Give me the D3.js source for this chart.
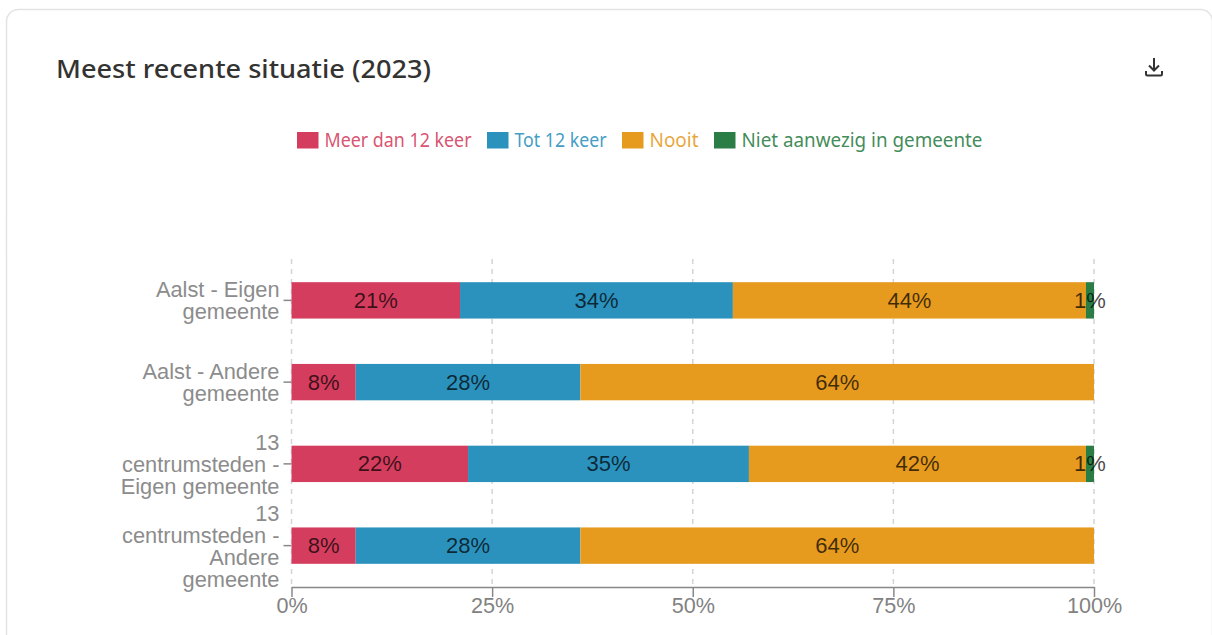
<!DOCTYPE html>
<html lang="nl">
<head>
<meta charset="utf-8">
<title>Meest recente situatie (2023)</title>
<script src="https://cdn.jsdelivr.net/npm/d3@7/dist/d3.min.js"></script>
<style>
  html, body { margin: 0; padding: 0; background: #fff; overflow: hidden; }
  svg { display: block; }
  .heading { font-family: "Noto Sans", sans-serif; font-weight: 500; }
  .legend-label { font-family: "Noto Sans", sans-serif; }
  .axis text, .value { font-family: "Liberation Sans", Arial, sans-serif; }
</style>
</head>
<body>
<svg id="chart" width="1212" height="635"></svg>
<script>
// Share of respondents per group, in percent
const categories = ["Aalst - Eigen gemeente", "Aalst - Andere gemeente", "13 centrumsteden - Eigen gemeente", "13 centrumsteden - Andere gemeente"];
const wrappedCategories = [
  ["Aalst - Eigen", "gemeente"],
  ["Aalst - Andere", "gemeente"],
  ["13", "centrumsteden -", "Eigen gemeente"],
  ["13", "centrumsteden -", "Andere", "gemeente"]
];
const seriesNames = ["Meer dan 12 keer", "Tot 12 keer", "Nooit", "Niet aanwezig in gemeente"];
const seriesColors = ["#d43d5e", "#2b91bd", "#e69a1e", "#2a7d45"];
const meerDan12 = [21, 8, 22, 8];
const tot12 = [34, 28, 35, 28];
const nooit = [44, 64, 42, 64];
const nietAanwezig = [1, 0, 1, 0];
const xTicks = [0, 25, 50, 75, 100];

const svg = d3.select("#chart");

// Card outline behind the chart
svg.append("rect")
  .attr("x", 6.5).attr("y", 9.5)
  .attr("width", 1206).attr("height", 660)
  .attr("rx", 12)
  .attr("fill", "#fff")
  .attr("stroke", "#e3e3e3")
  .attr("stroke-width", 1.5);

svg.append("text")
  .attr("class", "heading")
  .attr("x", 56).attr("y", 77.5)
  .attr("font-size", 26)
  .attr("fill", "#333332")
  .attr("textLength", 375)
  .attr("lengthAdjust", "spacingAndGlyphs")
  .text("Meest recente situatie (2023)");

// Download icon
const icon = svg.append("g")
  .attr("transform", "translate(1145,58)")
  .attr("fill", "none")
  .attr("stroke", "#333332")
  .attr("stroke-width", 2);
icon.append("path").attr("d", "M9 0V12M4 7.5L9 12.5L14 7.5");
icon.append("path").attr("d", "M1 13V16.2Q1 17.5 2.3 17.5H15.7Q17 17.5 17 16.2V13");

const x = d3.scaleLinear().domain([0, 100]).range([291.5, 1094]);
const y = d3.scaleBand().domain(categories).range([259.5, 586.5]).paddingInner(0.555).paddingOuter(0.2775);

// Dashed vertical grid lines
svg.append("g")
  .selectAll("line")
  .data(xTicks)
  .join("line")
  .attr("x1", d => x(d)).attr("x2", d => x(d))
  .attr("y1", 259).attr("y2", 587)
  .attr("stroke", "#d4d4d4")
  .attr("stroke-width", 1.5)
  .attr("stroke-dasharray", "5 5");

const seriesValues = [meerDan12, tot12, nooit, nietAanwezig];
const stack = d3.stack().keys(d3.range(seriesNames.length)).value((row, k) => seriesValues[k][row]);
const layers = stack(d3.range(categories.length));

const groups = svg.selectAll("g.layer")
  .data(layers)
  .join("g")
  .attr("class", "layer")
  .attr("fill", d => seriesColors[d.key]);

groups.selectAll("rect")
  .data(d => d.filter(s => s[1] > s[0]))
  .join("rect")
  .attr("x", d => x(d[0]))
  .attr("y", d => y(categories[d.data]))
  .attr("width", d => x(d[1]) - x(d[0]))
  .attr("height", y.bandwidth());

// Axes
const xAxis = d3.axisBottom(x).tickValues(xTicks).tickFormat(d => d + "%").tickSize(10).tickSizeOuter(0);
const gx = svg.append("g").attr("class", "axis").attr("transform", "translate(0,587)").call(xAxis);
gx.select(".domain").attr("stroke", "#888").attr("stroke-width", 1.5);
gx.selectAll(".tick line").attr("stroke", "#888").attr("stroke-width", 1.5);
gx.selectAll(".tick text").attr("fill", "#828282").attr("font-size", 21.6).attr("y", 11).attr("dy", "0.71em");

const yAxis = d3.axisLeft(y).tickSize(8).tickSizeOuter(0).tickPadding(4);
const gy = svg.append("g").attr("class", "axis").attr("transform", "translate(291.5,0)").call(yAxis);
gy.select(".domain").remove();
gy.selectAll(".tick line").attr("stroke", "#888").attr("stroke-width", 1.5);
gy.selectAll(".tick text").each(function (d, i) {
  const lines = wrappedCategories[i];
  const t = d3.select(this).text(null).attr("fill", "#8c8c8c").attr("font-size", 21.8).attr("x", -12).attr("dy", null);
  const lh = 22;
  lines.forEach((ln, j) => {
    t.append("tspan")
      .attr("x", -12)
      .attr("y", (j - (lines.length - 1) / 2) * lh + 8)
      .text(ln);
  });
});

// Value labels centred in each segment
groups.selectAll("text")
  .data(d => d.filter(s => s[1] > s[0]))
  .join("text")
  .attr("class", "value")
  .attr("x", d => x((d[0] + d[1]) / 2))
  .attr("y", d => y(categories[d.data]) + y.bandwidth() / 2 + 7.5)
  .attr("text-anchor", "middle")
  .attr("font-size", 22)
  .attr("fill", "#000")
  .attr("fill-opacity", 0.72)
  .text(d => (d[1] - d[0]) + "%");

// Legend entries, each label squeezed to a fixed width
const legend = svg.append("g").attr("transform", "translate(297,132)");
const labelWidths = [147, 92, 49, 241];
let cursor = 0;
seriesNames.forEach((name, i) => {
  const item = legend.append("g").attr("transform", `translate(${cursor},0)`);
  item.append("rect").attr("width", 21.5).attr("height", 16.5).attr("fill", seriesColors[i]);
  item.append("text")
    .attr("class", "legend-label")
    .attr("x", 27.5).attr("y", 15)
    .attr("font-size", 19.5)
    .attr("fill", seriesColors[i])
    .attr("fill-opacity", 0.9)
    .attr("textLength", labelWidths[i])
    .attr("lengthAdjust", "spacingAndGlyphs")
    .text(name);
  cursor += 27 + labelWidths[i] + 16;
});
</script>
</body>
</html>
